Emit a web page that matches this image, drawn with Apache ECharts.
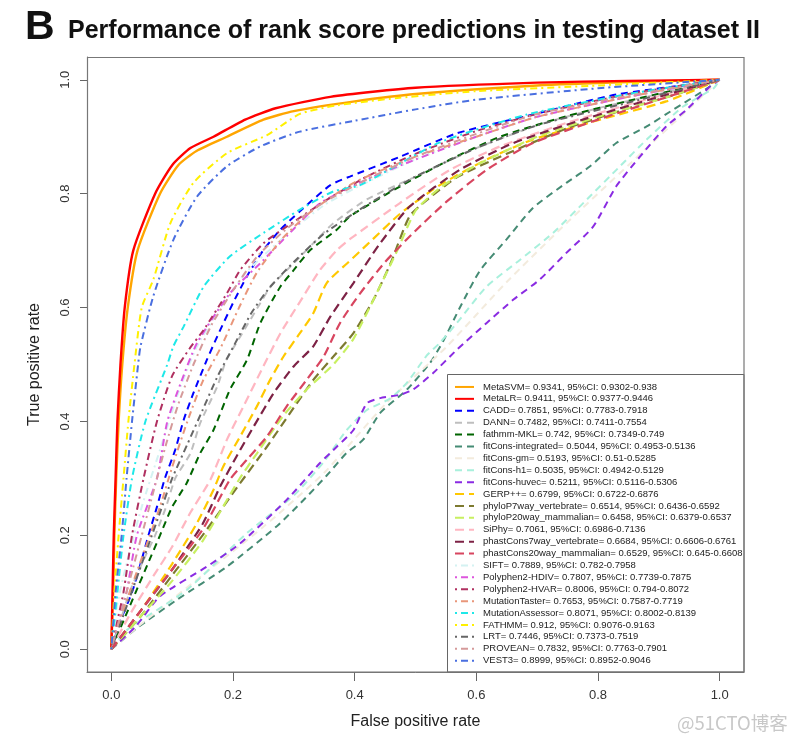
<!DOCTYPE html>
<html><head><meta charset="utf-8">
<script src="https://cdn.jsdelivr.net/npm/echarts@6/dist/echarts.min.js"></script>
<style>html,body{margin:0;padding:0;background:#fff}#c{width:795px;height:744px}</style>
</head><body><div id="c"></div>
<script>
const modelNames = ['MetaSVM','MetaLR','CADD','DANN','fathmm-MKL','fitCons-integrated','fitCons-gm','fitCons-h1','fitCons-huvec','GERP++','phyloP7way_vertebrate','phyloP20way_mammalian','SiPhy','phastCons7way_vertebrate','phastCons20way_mammalian','SIFT','Polyphen2-HDIV','Polyphen2-HVAR','MutationTaster','MutationAssessor','FATHMM','LRT','PROVEAN','VEST3'];
const aucValues = [0.9341,0.9411,0.7851,0.7482,0.742,0.5044,0.5193,0.5035,0.5211,0.6799,0.6514,0.6458,0.7061,0.6684,0.6529,0.7889,0.7807,0.8006,0.7653,0.8071,0.912,0.7446,0.7832,0.8999];
const ciLower = [0.9302,0.9377,0.7783,0.7411,0.7349,0.4953,0.51,0.4942,0.5116,0.6722,0.6436,0.6379,0.6986,0.6606,0.645,0.782,0.7739,0.794,0.7587,0.8002,0.9076,0.7373,0.7763,0.8952];
const ciUpper = [0.938,0.9446,0.7918,0.7554,0.749,0.5136,0.5285,0.5129,0.5306,0.6876,0.6592,0.6537,0.7136,0.6761,0.6608,0.7958,0.7875,0.8072,0.7719,0.8139,0.9163,0.7519,0.7901,0.9046];
const xTicks = [0, 0.2, 0.4, 0.6, 0.8, 1.0];
const yTicks = [0, 0.2, 0.4, 0.6, 0.8, 1.0];

// ROC curves: [false positive rate, true positive rate]
const rocMetaSVM = [[0,0],[0.003,0.1],[0.005,0.2],[0.008,0.3],[0.012,0.4],[0.018,0.5],[0.027,0.6],[0.043,0.7],[0.08,0.8],[0.11,0.85],[0.14,0.875],[0.19,0.9],[0.25,0.93],[0.3,0.945],[0.4,0.962],[0.5,0.975],[0.7,0.99],[0.85,0.996],[1,1]];
const rocMetaLR = [[0,0],[0.002,0.1],[0.004,0.2],[0.007,0.3],[0.01,0.4],[0.015,0.5],[0.022,0.6],[0.036,0.7],[0.072,0.8],[0.1,0.85],[0.13,0.88],[0.168,0.9],[0.22,0.93],[0.27,0.95],[0.36,0.97],[0.5,0.986],[0.7,0.995],[0.85,0.998],[1,1]];
const rocCADD = [[0,0],[0.015,0.05],[0.034,0.1],[0.048,0.15],[0.061,0.2],[0.075,0.25],[0.088,0.3],[0.105,0.35],[0.119,0.403],[0.135,0.45],[0.157,0.508],[0.174,0.549],[0.2,0.608],[0.223,0.655],[0.25,0.701],[0.278,0.737],[0.31,0.769],[0.36,0.815],[0.392,0.83],[0.475,0.865],[0.568,0.906],[0.693,0.939],[0.83,0.974],[0.967,0.994],[1,1]];
const rocDANN = [[0,0],[0.015,0.05],[0.03,0.1],[0.05,0.15],[0.072,0.2],[0.09,0.25],[0.105,0.3],[0.13,0.344],[0.146,0.397],[0.174,0.461],[0.189,0.508],[0.212,0.549],[0.245,0.608],[0.262,0.637],[0.3,0.678],[0.332,0.713],[0.365,0.748],[0.42,0.79],[0.5,0.83],[0.6,0.88],[0.7,0.92],[0.8,0.95],[0.9,0.975],[1,1]];
const rocFathmmMKL = [[0,0],[0.02,0.05],[0.04,0.1],[0.06,0.15],[0.08,0.2],[0.1,0.25],[0.124,0.292],[0.146,0.344],[0.168,0.385],[0.195,0.456],[0.223,0.508],[0.245,0.573],[0.278,0.637],[0.3,0.666],[0.327,0.701],[0.371,0.737],[0.392,0.76],[0.475,0.813],[0.557,0.86],[0.639,0.9],[0.748,0.936],[0.858,0.965],[1,1]];
const rocFitConsIntegrated = [[0,0],[0.042,0.037],[0.108,0.087],[0.19,0.145],[0.272,0.216],[0.316,0.262],[0.354,0.305],[0.387,0.345],[0.414,0.368],[0.442,0.415],[0.486,0.456],[0.524,0.503],[0.545,0.54],[0.573,0.6],[0.606,0.665],[0.65,0.72],[0.693,0.775],[0.748,0.819],[0.787,0.848],[0.83,0.889],[0.88,0.918],[0.923,0.947],[0.984,0.988],[1,1]];
const rocFitConsGm = [[0,0],[0.05,0.045],[0.15,0.13],[0.25,0.215],[0.35,0.31],[0.45,0.43],[0.55,0.53],[0.65,0.645],[0.75,0.75],[0.85,0.85],[0.95,0.95],[1,1]];
const rocFitConsH1 = [[0,0],[0.026,0.034],[0.124,0.104],[0.223,0.204],[0.3,0.27],[0.35,0.33],[0.387,0.385],[0.42,0.42],[0.458,0.44],[0.486,0.468],[0.518,0.515],[0.54,0.538],[0.568,0.573],[0.617,0.637],[0.672,0.684],[0.726,0.731],[0.781,0.789],[0.836,0.848],[0.88,0.895],[0.94,0.953],[0.99,0.985],[1,1]];
const rocFitConsHuvec = [[0,0],[0.04,0.04],[0.08,0.093],[0.157,0.145],[0.212,0.186],[0.288,0.262],[0.343,0.327],[0.371,0.356],[0.398,0.385],[0.42,0.432],[0.442,0.441],[0.475,0.447],[0.496,0.456],[0.529,0.485],[0.568,0.526],[0.617,0.573],[0.661,0.614],[0.704,0.649],[0.748,0.696],[0.792,0.742],[0.83,0.813],[0.869,0.865],[0.912,0.918],[0.945,0.947],[0.984,0.988],[1,1]];
const rocGERP = [[0,0],[0.05,0.07],[0.1,0.15],[0.14,0.22],[0.168,0.28],[0.184,0.321],[0.212,0.374],[0.239,0.426],[0.261,0.473],[0.283,0.514],[0.31,0.555],[0.332,0.59],[0.354,0.643],[0.39,0.68],[0.42,0.71],[0.475,0.765],[0.54,0.815],[0.617,0.86],[0.693,0.895],[0.803,0.93],[0.912,0.962],[1,1]];
const rocPhyloP7 = [[0,0],[0.05,0.06],[0.1,0.13],[0.15,0.2],[0.212,0.292],[0.256,0.356],[0.294,0.415],[0.332,0.473],[0.365,0.514],[0.398,0.555],[0.431,0.614],[0.46,0.68],[0.49,0.76],[0.52,0.79],[0.57,0.83],[0.65,0.87],[0.75,0.915],[0.85,0.95],[0.93,0.975],[1,1]];
const rocPhyloP20 = [[0,0],[0.05,0.06],[0.1,0.12],[0.15,0.19],[0.21,0.298],[0.24,0.345],[0.282,0.409],[0.321,0.456],[0.365,0.5],[0.398,0.545],[0.436,0.625],[0.47,0.7],[0.5,0.77],[0.54,0.81],[0.6,0.85],[0.7,0.9],[0.8,0.935],[0.9,0.965],[1,1]];
const rocSiPhy = [[0,0],[0.03,0.06],[0.07,0.13],[0.1,0.18],[0.13,0.24],[0.163,0.298],[0.19,0.368],[0.217,0.426],[0.25,0.497],[0.278,0.555],[0.31,0.61],[0.343,0.666],[0.371,0.701],[0.392,0.72],[0.475,0.784],[0.557,0.842],[0.639,0.883],[0.748,0.924],[0.858,0.959],[1,1]];
const rocPhastCons7 = [[0,0],[0.05,0.07],[0.1,0.14],[0.15,0.22],[0.179,0.286],[0.206,0.339],[0.234,0.391],[0.267,0.45],[0.3,0.497],[0.332,0.532],[0.36,0.584],[0.398,0.643],[0.44,0.71],[0.49,0.777],[0.573,0.842],[0.661,0.889],[0.775,0.93],[0.9,0.97],[1,1]];
const rocPhastCons20 = [[0,0],[0.05,0.07],[0.1,0.14],[0.15,0.21],[0.195,0.298],[0.223,0.333],[0.256,0.374],[0.288,0.426],[0.321,0.473],[0.349,0.514],[0.376,0.573],[0.409,0.625],[0.45,0.68],[0.5,0.735],[0.55,0.785],[0.617,0.842],[0.693,0.889],[0.8,0.93],[0.9,0.965],[1,1]];
const rocSIFT = [[0,0],[0.01,0.08],[0.025,0.15],[0.05,0.25],[0.08,0.35],[0.11,0.45],[0.14,0.53],[0.18,0.6],[0.22,0.66],[0.28,0.72],[0.35,0.78],[0.42,0.82],[0.5,0.86],[0.6,0.9],[0.7,0.935],[0.85,0.97],[1,1]];
const rocPolyphenHDIV = [[0,0],[0.012,0.05],[0.025,0.1],[0.042,0.2],[0.075,0.3],[0.092,0.4],[0.115,0.47],[0.141,0.538],[0.195,0.625],[0.245,0.678],[0.288,0.725],[0.343,0.783],[0.42,0.825],[0.5,0.86],[0.6,0.9],[0.7,0.935],[0.85,0.97],[1,1]];
const rocPolyphenHVAR = [[0,0],[0.01,0.05],[0.02,0.1],[0.034,0.2],[0.053,0.3],[0.075,0.4],[0.1,0.48],[0.13,0.53],[0.152,0.561],[0.19,0.625],[0.212,0.666],[0.25,0.713],[0.288,0.742],[0.354,0.789],[0.42,0.83],[0.5,0.87],[0.6,0.91],[0.7,0.94],[0.85,0.975],[1,1]];
const rocMutationTaster = [[0,0],[0.02,0.07],[0.04,0.13],[0.06,0.19],[0.08,0.25],[0.1,0.32],[0.125,0.4],[0.15,0.47],[0.18,0.53],[0.21,0.6],[0.239,0.661],[0.28,0.72],[0.33,0.77],[0.4,0.82],[0.5,0.865],[0.6,0.9],[0.7,0.935],[0.85,0.97],[1,1]];
const rocMutationAssessor = [[0,0],[0.005,0.05],[0.01,0.1],[0.02,0.2],[0.034,0.3],[0.056,0.4],[0.092,0.5],[0.102,0.532],[0.119,0.567],[0.152,0.637],[0.195,0.69],[0.25,0.731],[0.31,0.772],[0.365,0.804],[0.409,0.815],[0.54,0.89],[0.683,0.939],[0.85,0.975],[1,1]];
const rocFATHMM = [[0,0],[0.005,0.1],[0.012,0.2],[0.02,0.3],[0.028,0.4],[0.038,0.5],[0.05,0.6],[0.069,0.649],[0.097,0.748],[0.135,0.819],[0.19,0.871],[0.256,0.903],[0.31,0.94],[0.37,0.955],[0.47,0.968],[0.6,0.98],[0.8,0.99],[1,1]];
const rocLRT = [[0,0],[0.02,0.06],[0.04,0.12],[0.06,0.18],[0.08,0.24],[0.1,0.3],[0.125,0.36],[0.15,0.42],[0.175,0.48],[0.2,0.53],[0.23,0.59],[0.26,0.635],[0.3,0.68],[0.35,0.73],[0.42,0.78],[0.5,0.83],[0.6,0.88],[0.7,0.92],[0.85,0.96],[1,1]];
const rocPROVEAN = [[0,0],[0.015,0.06],[0.03,0.12],[0.05,0.2],[0.07,0.28],[0.09,0.36],[0.11,0.43],[0.135,0.5],[0.165,0.57],[0.2,0.63],[0.24,0.69],[0.29,0.74],[0.35,0.785],[0.42,0.825],[0.5,0.865],[0.6,0.905],[0.7,0.94],[0.85,0.972],[1,1]];
const rocVEST3 = [[0,0],[0.007,0.1],[0.017,0.2],[0.025,0.3],[0.034,0.4],[0.044,0.5],[0.048,0.532],[0.069,0.62],[0.102,0.719],[0.141,0.795],[0.19,0.848],[0.245,0.883],[0.31,0.909],[0.4,0.928],[0.5,0.948],[0.6,0.965],[0.8,0.985],[1,1]];

const rocCurves = [rocMetaSVM, rocMetaLR, rocCADD, rocDANN, rocFathmmMKL, rocFitConsIntegrated, rocFitConsGm, rocFitConsH1, rocFitConsHuvec, rocGERP, rocPhyloP7, rocPhyloP20, rocSiPhy, rocPhastCons7, rocPhastCons20, rocSIFT, rocPolyphenHDIV, rocPolyphenHVAR, rocMutationTaster, rocMutationAssessor, rocFATHMM, rocLRT, rocPROVEAN, rocVEST3];

const lineColors = ['#FFA500','#FF0000','#0000FF','#BEBEBE','#006400','#458B74','#F3EBDD','#A8F0DC','#8A2BE2','#FFC800','#7D7A30','#C8F060','#FFB6C1','#7D2245','#D8455F','#D4F2F2','#DD55DD','#B03060','#E9967A','#1EE8E8','#FFF000','#666666','#D59A9A','#4A6FE0'];
const dashed = [7,5], longDashed = [9,5], dotDash = [2,4,7,4];
const lineDashes = ['solid','solid',dashed,dashed,dashed,dashed,dashed,dashed,dashed,longDashed,longDashed,longDashed,longDashed,longDashed,longDashed,dotDash,dotDash,dotDash,dotDash,dotDash,dotDash,dotDash,dotDash,dotDash];
const lineWidths = [2.4,2.4,2,2,2,2,2,2,2,2.2,2.2,2.2,2.2,2.2,2.2,2,2,2,2,2,2,2,2,2];

const chart = echarts.init(document.getElementById('c'), null, {renderer:'canvas'});
const series = modelNames.map((n,i)=>({
  name:n, type:'line', data:rocCurves[i], showSymbol:false, symbol:'none', smooth:0.2,
  lineStyle:{color:lineColors[i], width:lineWidths[i], type:lineDashes[i]},
  itemStyle:{color:lineColors[i]}, silent:true, animation:false
}));
const fmt = v => v.toFixed(1);
chart.setOption({
  backgroundColor:'#fff',
  animation:false,
  grid:{left:87, top:57, width:657, height:615},
  xAxis:{type:'value', min:-0.04, max:1.04,
    splitLine:{show:false},
    axisLine:{show:true, onZero:false, lineStyle:{color:'#777', width:1}},
    axisTick:{show:true, length:9, customValues:xTicks, lineStyle:{color:'#666'}},
    axisLabel:{fontSize:13, color:'#333', margin:17, customValues:xTicks, formatter:fmt, fontFamily:'Liberation Sans'},
    name:'False positive rate', nameLocation:'middle', nameGap:42,
    nameTextStyle:{fontSize:16, color:'#222', fontFamily:'Liberation Sans'}},
  yAxis:{type:'value', min:-0.04, max:1.04,
    splitLine:{show:false},
    axisLine:{show:true, onZero:false, lineStyle:{color:'#777', width:1}},
    axisTick:{show:true, length:7, customValues:yTicks, lineStyle:{color:'#666'}},
    axisLabel:{fontSize:13, color:'#333', margin:15, rotate:90, customValues:yTicks, formatter:fmt, fontFamily:'Liberation Sans'},
    name:'True positive rate', nameLocation:'middle', nameGap:44,
    nameTextStyle:{fontSize:16, color:'#222', fontFamily:'Liberation Sans'}},
  legend:{
    orient:'vertical', left:454, top:381, padding:0, itemGap:0, itemWidth:19, itemHeight:9,
    selectedMode:false, z:10,
    itemStyle:{opacity:0, borderWidth:0},
    data:modelNames,
    formatter:n=>{const i=modelNames.indexOf(n);return n+'= '+aucValues[i]+', 95%CI: '+ciLower[i]+'-'+ciUpper[i];},
    textStyle:{fontSize:9.5, color:'#222', lineHeight:11.9, padding:[0,0,0,4], fontFamily:'Liberation Sans'}
  },
  graphic:[
    {type:'rect', z:5, shape:{x:447.5, y:374.5, width:296.5, height:297.5}, style:{fill:'#fff', stroke:'#666', lineWidth:1}},
    {type:'rect', z:6, shape:{x:87.5, y:57.5, width:656.5, height:614.5}, style:{fill:'none', stroke:'#777', lineWidth:1.2}},
    {type:'text', x:25, y:28, style:{text:'B', font:'bold 41px "Liberation Sans", Arial, sans-serif', fill:'#111', verticalAlign:'middle'}},
    {type:'text', x:68, y:31, style:{text:'Performance of rank score predictions in testing dataset II', font:'bold 25px "Liberation Sans", Arial, sans-serif', fill:'#111', verticalAlign:'middle'}},
    {type:'text', x:677, y:723, style:{text:'@51CTO博客', font:'18.5px "Noto Sans CJK SC", sans-serif', fill:'#C8C8C8', verticalAlign:'middle'}}
  ],
  series:series
});
</script></body></html>
